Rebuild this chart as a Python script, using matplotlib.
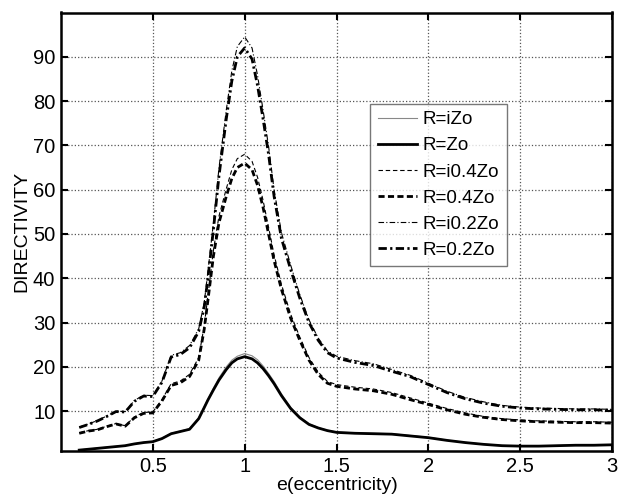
import matplotlib
matplotlib.use("Agg")
import matplotlib.pyplot as plt

plt.rcParams['font.family'] = ['Liberation Sans', 'DejaVu Sans']

# eccentricity samples
e = [0.1, 0.15, 0.2, 0.25, 0.3, 0.35, 0.4, 0.45, 0.5, 0.55, 0.6, 0.65, 0.7, 0.75,
     0.78, 0.8, 0.83, 0.86, 0.9, 0.93, 0.96, 1.0,
     1.04, 1.07, 1.1, 1.13, 1.16, 1.2, 1.25, 1.3, 1.35, 1.4, 1.45, 1.5,
     1.6, 1.7, 1.8, 1.9, 2.0, 2.1, 2.2, 2.3, 2.4, 2.5, 2.6, 2.7, 2.8, 2.9, 3.0]

# directivity for each termination
d_iZo = [1.25, 1.45, 1.65, 1.85, 2.05, 2.25, 2.65, 2.95, 3.15, 3.9, 5.0, 5.5, 6.05, 8.5,
         11.1, 12.8, 15.2, 17.5, 20.0, 21.5, 22.4, 23.0,
         22.5, 21.6, 20.2, 18.5, 16.7, 13.9, 10.9, 8.7, 7.15, 6.3, 5.7, 5.3,
         5.1, 5.0, 4.9, 4.5, 4.1, 3.45, 2.95, 2.55, 2.25, 2.15, 2.15, 2.25, 2.35, 2.35, 2.45]
d_Zo = [1.2, 1.4, 1.6, 1.8, 2.0, 2.2, 2.6, 2.9, 3.1, 3.8, 4.9, 5.4, 5.9, 8.3,
        10.8, 12.5, 14.8, 17.0, 19.4, 20.9, 21.8, 22.3,
        21.8, 20.9, 19.6, 18.0, 16.2, 13.5, 10.6, 8.5, 7.0, 6.2, 5.6, 5.2,
        5.0, 4.9, 4.8, 4.4, 4.0, 3.4, 2.9, 2.5, 2.2, 2.1, 2.1, 2.2, 2.3, 2.3, 2.4]
d_i04Zo = [5.1, 5.6, 5.9, 6.6, 7.2, 6.7, 8.7, 9.7, 9.8, 12.6, 16.2, 16.8, 18.3, 22.1,
           29.3, 36.0, 46.3, 54.0, 60.2, 64.5, 67.0, 68.0,
           66.4, 62.8, 57.6, 51.5, 45.3, 38.6, 31.9, 26.7, 22.1, 18.8, 16.7, 16.0,
           15.4, 15.0, 14.2, 13.0, 11.8, 10.6, 9.6, 8.8, 8.3, 8.0, 7.8, 7.7, 7.6, 7.6, 7.5]
d_04Zo = [5.0, 5.5, 5.8, 6.5, 7.1, 6.6, 8.5, 9.5, 9.6, 12.3, 15.8, 16.4, 17.8, 21.5,
          28.5, 35.0, 45.0, 52.5, 58.5, 62.5, 65.0, 66.0,
          64.5, 61.0, 56.0, 50.0, 44.0, 37.5, 31.0, 26.0, 21.5, 18.3, 16.3, 15.6,
          15.0, 14.6, 13.8, 12.6, 11.5, 10.3, 9.3, 8.6, 8.1, 7.8, 7.6, 7.5, 7.4, 7.4, 7.3]
d_i02Zo = [6.4, 7.1, 7.9, 8.9, 10.0, 9.9, 12.4, 13.6, 13.5, 16.8, 22.6, 23.2, 24.8, 28.6,
           34.5, 41.5, 52.5, 64.8, 78.0, 86.8, 92.3, 94.5,
           92.0, 85.8, 78.0, 69.8, 60.0, 50.3, 43.0, 36.3, 30.6, 26.5, 23.6, 22.4,
           21.4, 20.7, 19.4, 18.1, 16.3, 14.5, 13.1, 12.1, 11.3, 10.9, 10.7, 10.6, 10.5, 10.5, 10.4]
d_02Zo = [6.3, 7.0, 7.8, 8.8, 9.9, 9.8, 12.2, 13.4, 13.3, 16.5, 22.2, 22.8, 24.3, 28.0,
          33.5, 40.0, 51.0, 63.0, 76.0, 84.5, 90.0, 92.0,
          89.5, 83.5, 76.0, 68.0, 58.5, 49.0, 42.0, 35.5, 30.0, 26.0, 23.2, 22.0,
          21.0, 20.3, 19.0, 17.8, 16.0, 14.2, 12.8, 11.8, 11.1, 10.7, 10.5, 10.4, 10.3, 10.3, 10.2]

labels = ['R=iZo', 'R=Zo', 'R=i0.4Zo', 'R=0.4Zo', 'R=i0.2Zo', 'R=0.2Zo']
xticks = [0.5, 1, 1.5, 2, 2.5, 3]
yticks = [10, 20, 30, 40, 50, 60, 70, 80, 90]

fig = plt.figure(figsize=(6.21, 5.0), dpi=100)
ax = fig.add_axes([0.098, 0.098, 0.888, 0.877])

thin = 0.8
thick = 2.0
ax.plot(e, d_iZo, color='#888888', lw=thin, label=labels[0])
ax.plot(e, d_Zo, color='black', lw=thick, label=labels[1])
ax.plot(e, d_i04Zo, color='black', lw=thin, ls=(0, (4, 2.5)), label=labels[2])
ax.plot(e, d_04Zo, color='black', lw=thick, ls=(0, (2.2, 1.2)), label=labels[3])
ax.plot(e, d_i02Zo, color='black', lw=thin, ls=(0, (5, 2, 1, 2)), label=labels[4])
ax.plot(e, d_02Zo, color='black', lw=thick, ls=(0, (3, 1.2, 0.8, 1.2)), label=labels[5])

ax.set_xlim(0, 3)
ax.set_ylim(1, 100)
ax.set_xticks(xticks)
ax.set_xticklabels(['0.5', '1', '1.5', '2', '2.5', '3'])
ax.set_yticks(yticks)
ax.tick_params(direction='in', length=5, width=1.5, labelsize=14.5,
               top=True, right=True, pad=4)
for s in ax.spines.values():
    s.set_linewidth(1.8)
ax.grid(True, ls=':', color='#555555', lw=0.9)

ax.set_xlabel('e(eccentricity)', fontsize=14, labelpad=1)
ax.set_ylabel('DIRECTIVITY', fontsize=14, labelpad=2)

leg = ax.legend(loc='upper left', bbox_to_anchor=(0.561, 0.792), fontsize=13.5,
                frameon=True, fancybox=False, handlelength=2.1, handletextpad=0.3,
                labelspacing=0.48, borderpad=0.4, borderaxespad=0)
leg.get_frame().set_edgecolor('#555555')
leg.get_frame().set_linewidth(1.0)

fig.savefig('out.png', dpi=100)
